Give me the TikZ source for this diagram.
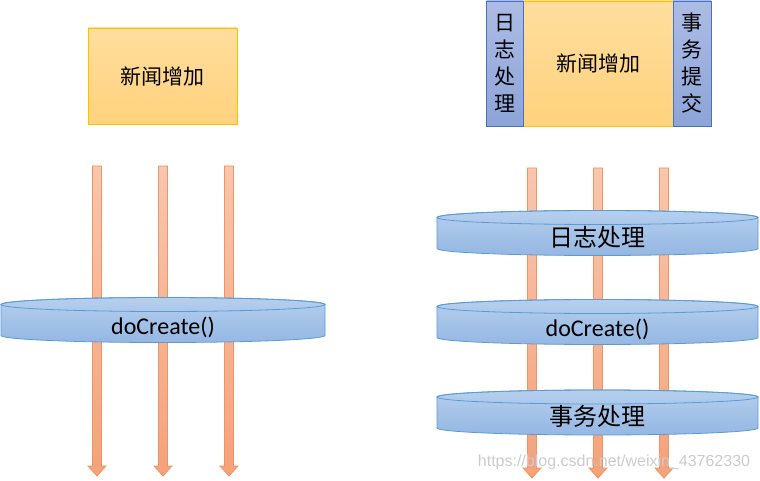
\documentclass[tikz,border=0pt]{standalone}
\usepackage{fontspec}
\setmainfont{Carlito}
\newfontfamily\cjk{Noto Sans CJK SC}
\newfontfamily\wmfont{Liberation Sans}
\usetikzlibrary{positioning, calc}
\definecolor{goldline}{RGB}{255, 192, 0}
\definecolor{yellowtop}{RGB}{255, 222, 158}
\definecolor{yellowbot}{RGB}{255, 210, 125}
\definecolor{aspectline}{RGB}{68, 114, 196}
\definecolor{aspecttop}{RGB}{172, 188, 229}
\definecolor{aspectbot}{RGB}{141, 164, 216}
\definecolor{diskline}{RGB}{91, 155, 213}
\definecolor{disktop}{RGB}{182, 207, 237}
\definecolor{diskbot}{RGB}{148, 183, 227}
\definecolor{arrowline}{RGB}{242, 148, 98}
\definecolor{arrowtop}{RGB}{249, 198, 175}
\definecolor{arrowbot}{RGB}{244, 162, 122}

\tikzset{
  newsbox/.style={draw=goldline, top color=yellowtop, bottom color=yellowbot, line width=0.8pt,
    inner sep=0pt, outer sep=0pt, font=\cjk\fontsize{21}{25}\selectfont},
  aspectbox/.style={draw=aspectline, top color=aspecttop, bottom color=aspectbot, line width=0.8pt,
    inner sep=0pt, outer sep=0pt, align=center, font=\cjk\fontsize{21}{27}\selectfont},
  flowarrow/.style={draw=arrowline, top color=arrowtop, bottom color=arrowbot, line width=0.8pt},
  diskfill/.style={draw=diskline, top color=disktop, bottom color=diskbot, line width=0.8pt},
  diskrim/.style={draw=diskline, line width=0.8pt},
  disklabel/.style={inner sep=0pt, font=\fontsize{24}{28}\selectfont},
}

\newcommand{\blockarrow}[2]{%
  \path[flowarrow] let \p1=(#1), \p2=(#2) in
    (\x1-4.5pt,\y1) -- (\x1+4.5pt,\y1) -- (\x1+4.5pt,\y2+10pt) -- (\x1+9pt,\y2+10pt)
    -- (\x2,\y2) -- (\x1-9pt,\y2+10pt) -- (\x1-4.5pt,\y2+10pt) -- cycle;}

\newcommand{\disk}[6][]{%
  \path[diskfill] (#3-#5,#4) -- ++(0,-31) arc[start angle=180, end angle=360, x radius=#5pt, y radius=7pt]
    -- ++(0,31) arc[start angle=0, end angle=180, x radius=#5pt, y radius=7pt] -- cycle;
  \draw[diskrim] (#3,#4) ellipse[x radius=#5pt, y radius=7pt];
  \node[disklabel, #1] (#2) at (#3,#4-22.5) {#6};}

\begin{document}
\begin{tikzpicture}[x=1pt, y=1pt]
  \useasboundingbox (0,0) rectangle (760,480);

  % left: plain call
  \node[newsbox, minimum width=149pt, minimum height=96pt] (news1) at (162.5,404) {新闻增加};
  \foreach \x [count=\i] in {97,163,229} {
    \coordinate (ltop\i) at (\x,314);
    \coordinate (lend\i) at (\x,4);
    \blockarrow{ltop\i}{lend\i}
  }
  \disk{create1}{163}{175.5}{162}{doCreate()}

  % right: wrapped call
  \node[newsbox, minimum width=150pt, minimum height=125pt] (news2) at (598,416.5) {新闻增加};
  \node[aspectbox, minimum width=36.5pt, minimum height=125pt, left=0pt of news2] (logbox) {日\\志\\处\\理};
  \node[aspectbox, minimum width=38pt, minimum height=125pt, right=0pt of news2] (txbox) {事\\务\\提\\交};
  \foreach \x [count=\i] in {532,598,664} {
    \coordinate (rtop\i) at (\x,312);
    \coordinate (rend\i) at (\x,2);
    \blockarrow{rtop\i}{rend\i}
  }
  \disk[yshift=3pt]{log}{597.5}{262.5}{160.5}{\cjk 日志处理}
  \disk{create2}{597.5}{173.5}{160.5}{doCreate()}
  \disk[yshift=3pt]{tx}{597.5}{83}{160.5}{\cjk 事务处理}

  \node[font=\wmfont\fontsize{16}{18}\selectfont, text=black!20] (mark) at (614,18) {https://blog.csdn.net/weixin\_43762330};
\end{tikzpicture}
\end{document}
